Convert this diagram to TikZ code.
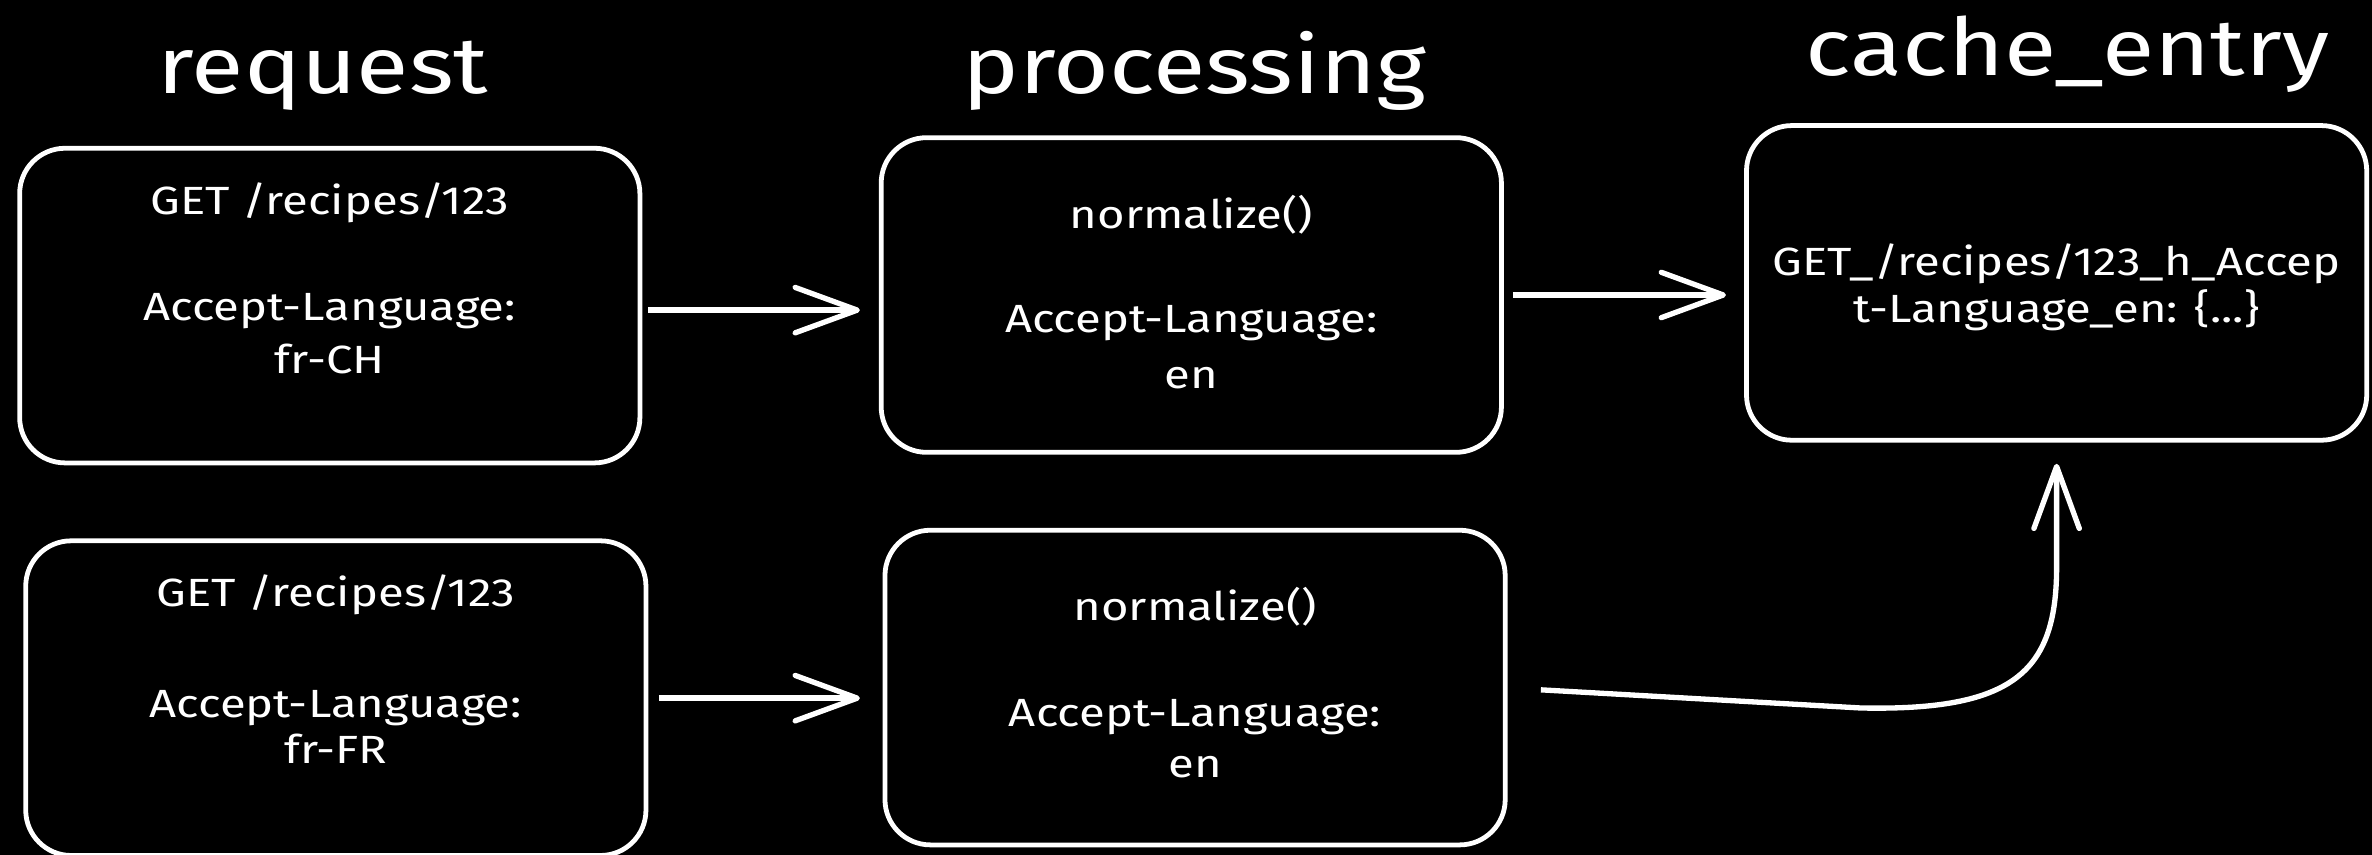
\documentclass[tikz,border=0pt]{standalone}
\usepackage{fontspec}
\setmainfont{Fira Sans}[FakeStretch=1.2]
\usetikzlibrary{arrows.meta}
\usetikzlibrary{calc}

\begin{document}
\begin{tikzpicture}[
		box/.style={draw=white, line width=0.9pt, rounded corners=0.3cm, minimum width=4.1cm, minimum height=2.08cm},
		txt/.style={text=white, anchor=base, inner sep=0pt, font=\fontsize{7.4}{9}\selectfont},
		title/.style={text=white, anchor=base, inner sep=0pt, font=\fontsize{15}{18}\selectfont},
		arr/.style={draw=white, line width=1pt, -{Straight Barb[length=4.1mm, width=3mm, round]}}
	]
		\fill[black] (0,0) rectangle (15.68,5.65);
		\useasboundingbox (0,0) rectangle (15.68,5.65);

		% column titles
		\node[title] (treq) at (2.135,5.03) {request};
		\node[title] (tproc) at (7.895,5.03) {processing};
		\node[title] (tcache) at (13.665,5.15) {cache\_entry};

		% boxes
		\node[box] (req1) at (2.18,3.63) {};
		\node[box] (req2) at (2.22,1.035) {};
		\node[box] (proc1) at (7.875,3.70) {};
		\node[box] (proc2) at (7.90,1.105) {};
		\node[box] (entry) at (13.595,3.78) {};

		\node[txt] (req1a) at (2.18,4.23) {GET /recipes/123};
		\node[txt] (req1b) at (2.18,3.53) {Accept-Language:};
		\node[txt] (req1c) at (2.18,3.18) {fr-CH};

		\node[txt] (req2a) at (2.22,1.64) {GET /recipes/123};
		\node[txt] (req2b) at (2.22,0.91) {Accept-Language:};
		\node[txt] (req2c) at (2.22,0.60) {fr-FR};

		\node[txt] (proc1a) at (7.875,4.14) {normalize()};
		\node[txt] (proc1b) at (7.875,3.45) {Accept-Language:};
		\node[txt] (proc1c) at (7.875,3.08) {en};

		\node[txt] (proc2a) at (7.90,1.55) {normalize()};
		\node[txt] (proc2b) at (7.90,0.85) {Accept-Language:};
		\node[txt] (proc2c) at (7.90,0.51) {en};

		\node[txt] (entrya) at (13.595,3.83) {GET\_/recipes/123\_h\_Accep};
		\node[txt] (entryb) at (13.595,3.52) {t-Language\_en: \{...\}};

		% arrows
		\draw[arr, shorten <=0.4mm, shorten >=1.25mm] ([yshift=-0.3mm]req1.east) -- ([yshift=-0.3mm]req1.east -| proc1.west);
		\draw[arr, shorten <=0.7mm, shorten >=1.5mm] (req2.east) -- (req2.east -| proc2.west);
		\draw[arr, shorten <=0.6mm, shorten >=1.2mm] (proc1.east) -- (proc1.east -| entry.west);
		\draw[arr, shorten >=1.4mm] ([xshift=2.2mm,yshift=-0.15mm]proc2.east) -- (12.3,0.97)
			.. controls (13.3,0.95) and (13.595,1.2) .. (13.595,1.9) -- (entry.south);
\end{tikzpicture}
\end{document}
